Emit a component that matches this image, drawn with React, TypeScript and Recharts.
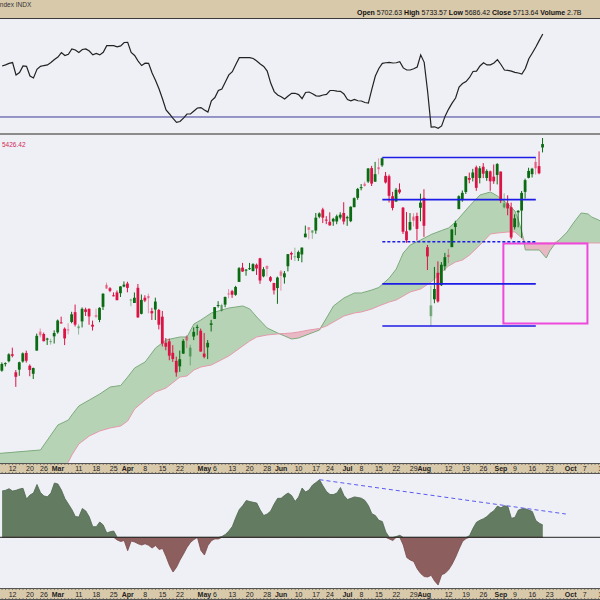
import { Area, Bar, ComposedChart, Line, ReferenceArea, ReferenceLine, XAxis, YAxis } from 'recharts'

// daily bars, index 0 = Feb 7 2024 ... index 155 = Sep 19 2024
const opens = [
  4973.05, 4995.16, 5004.17, 5026.83, 4967.94, 4976.44, 5003.14, 5031.13, 4989.32, 4963.03, 5038.83, 5100.92, 5093.0, 5074.6, 5067.2, 5085.36,
  5098.51, 5130.99, 5110.52, 5108.03, 5132.38, 5164.46, 5111.96, 5134.3, 5173.49, 5175.14, 5123.31, 5154.77, 5139.09, 5181.69, 5253.43, 5242.48, 5219.52, 5228.85, 5226.31, 5248.03,
  5257.97, 5204.29, 5194.37, 5244.05, 5158.95, 5211.37, 5217.03, 5167.88, 5172.95, 5171.51, 5149.67, 5064.59, 5068.97, 5031.52, 5005.44, 4987.33, 5028.85, 5084.86, 5019.88, 5084.65, 5114.13, 5103.78,
  5029.03, 5049.32, 5122.78, 5142.42, 5187.2, 5168.98, 5189.03, 5225.49, 5233.08, 5221.1, 5263.26, 5310.07, 5303.1, 5305.35, 5298.69, 5319.28, 5340.26, 5281.45, 5315.91, 5278.73, 5259.77, 5243.21,
  5297.15, 5278.24, 5314.48, 5357.8, 5343.81, 5341.22, 5353.0, 5409.13, 5441.93, 5424.08, 5431.11, 5476.15, 5499.99, 5466.77, 5459.58, 5460.73, 5460.71, 5473.59, 5488.48,
  5471.08, 5461.84, 5507.44, 5537.91, 5572.75, 5584.24, 5591.26, 5635.21, 5590.76, 5638.16, 5644.09, 5610.07, 5608.56, 5543.37, 5525.77, 5565.3, 5505.84, 5428.7, 5433.67, 5476.55, 5478.73, 5505.59,
  5537.84, 5376.63, 5151.14, 5206.42, 5293.13, 5252.57, 5314.39, 5351.88, 5376.98, 5442.68, 5501.13, 5530.5, 5557.23, 5602.88, 5603.09, 5637.77, 5602.89, 5639.66, 5602.89, 5624.51, 5607.3, 5612.74,
  5623.89, 5506.68, 5520.08, 5507.33, 5442.07, 5490.51, 5496.42, 5557.48, 5603.34, 5615.21, 5655.51, 5641.68, 5702.63,
]
const highs = [
  5000.33, 5000.4, 5030.06, 5048.39, 4975.29, 5002.52, 5032.72, 5038.7, 4993.71, 4983.21, 5094.39, 5111.06, 5097.66, 5080.69, 5077.37, 5104.99,
  5140.33, 5149.67, 5114.54, 5127.97, 5165.62, 5189.26, 5124.66, 5179.87, 5179.14, 5176.85, 5136.86, 5175.6, 5180.31, 5226.19, 5261.1, 5246.09, 5229.09, 5235.16, 5249.26, 5264.85,
  5263.95, 5208.34, 5228.75, 5256.59, 5222.18, 5219.57, 5224.81, 5178.43, 5211.78, 5175.03, 5168.43, 5079.84, 5077.96, 5056.66, 5019.02, 5038.84, 5076.12, 5089.48, 5057.75, 5114.62, 5123.49, 5110.83,
  5096.12, 5073.21, 5139.12, 5181.0, 5200.23, 5191.95, 5215.3, 5239.66, 5237.26, 5250.37, 5311.76, 5325.49, 5305.45, 5325.32, 5324.32, 5323.18, 5341.88, 5311.65, 5315.91, 5282.27, 5260.21, 5280.33,
  5302.11, 5298.8, 5354.16, 5362.35, 5375.08, 5365.79, 5375.95, 5447.25, 5441.93, 5432.39, 5488.5, 5490.38, 5505.53, 5478.31, 5490.66, 5472.88, 5483.14, 5490.81, 5523.64,
  5479.55, 5509.69, 5539.27, 5570.33, 5583.11, 5590.75, 5635.39, 5642.45, 5655.56, 5666.94, 5669.67, 5622.49, 5614.05, 5557.5, 5570.36, 5585.34, 5508.04, 5491.59, 5488.32, 5487.74, 5489.46, 5551.51,
  5566.16, 5383.89, 5250.89, 5312.34, 5330.64, 5328.03, 5358.19, 5371.2, 5436.5, 5463.22, 5546.23, 5561.98, 5608.3, 5620.51, 5632.68, 5643.22, 5641.82, 5651.62, 5631.18, 5627.03, 5646.95, 5651.37,
  5623.89, 5552.99, 5546.3, 5522.47, 5484.2, 5497.91, 5560.41, 5600.71, 5636.27, 5636.05, 5670.81, 5689.75, 5733.57,
]
const lows = [
  4969.8, 4987.09, 5000.34, 5016.83, 4920.31, 4956.45, 4999.44, 4999.52, 4955.02, 4946.0, 5038.83, 5081.46, 5068.91, 5057.29, 5058.35, 5061.89,
  5094.16, 5127.18, 5056.82, 5092.22, 5128.21, 5117.5, 5091.14, 5114.48, 5151.88, 5123.3, 5104.35, 5145.47, 5131.59, 5171.55, 5240.66, 5229.87, 5216.09, 5203.42, 5213.92, 5245.82,
  5229.2, 5184.05, 5194.37, 5146.06, 5157.21, 5197.35, 5160.78, 5138.7, 5138.77, 5107.94, 5052.47, 5039.83, 5007.25, 5001.89, 4953.56, 4969.4, 5027.96, 5047.02, 4990.58, 5073.14, 5088.65, 5035.31,
  5013.45, 5011.05, 5101.22, 5142.42, 5178.96, 5165.86, 5180.41, 5209.68, 5211.16, 5217.98, 5263.26, 5296.19, 5283.59, 5302.4, 5297.87, 5286.01, 5256.93, 5278.39, 5280.89, 5262.7, 5222.1, 5191.68,
  5234.32, 5257.63, 5297.64, 5335.36, 5331.33, 5331.52, 5327.25, 5409.13, 5402.51, 5403.75, 5420.4, 5471.32, 5455.56, 5452.03, 5447.59, 5446.56, 5451.87, 5467.54, 5451.12,
  5446.53, 5458.43, 5507.42, 5531.63, 5562.51, 5574.57, 5586.44, 5576.53, 5590.44, 5614.75, 5639.02, 5584.81, 5522.81, 5497.04, 5525.77, 5550.9, 5419.98, 5390.95, 5430.7, 5444.44, 5398.34, 5461.43,
  5410.42, 5302.03, 5119.26, 5193.56, 5195.54, 5249.89, 5300.51, 5324.37, 5376.98, 5415.85, 5501.13, 5525.17, 5550.74, 5585.5, 5591.57, 5560.95, 5585.16, 5602.34, 5593.48, 5560.95, 5583.71, 5581.79,
  5521.02, 5503.66, 5480.96, 5402.62, 5434.49, 5441.72, 5406.96, 5535.5, 5601.65, 5604.53, 5614.05, 5615.08, 5686.42,
]
const closes = [
  4995.06, 4997.91, 5026.61, 5021.84, 4953.17, 5000.62, 5029.73, 5005.57, 4975.51, 4981.8, 5087.03, 5088.8, 5069.53, 5078.18, 5069.76, 5096.27,
  5137.08, 5130.95, 5078.65, 5104.76, 5157.36, 5123.69, 5117.94, 5175.27, 5165.31, 5150.48, 5117.09, 5149.42, 5178.51, 5224.62, 5241.53, 5234.18, 5218.19, 5203.58, 5248.49, 5254.35,
  5243.77, 5205.81, 5211.49, 5147.21, 5204.34, 5202.39, 5209.91, 5160.64, 5199.06, 5123.41, 5061.82, 5051.41, 5022.21, 5011.12, 4967.23, 5010.6, 5070.55, 5071.63, 5048.42, 5099.96, 5116.17, 5035.69,
  5018.39, 5064.2, 5127.79, 5180.74, 5187.7, 5187.67, 5214.08, 5222.68, 5221.42, 5246.68, 5308.15, 5297.1, 5303.27, 5308.13, 5321.41, 5307.01, 5267.84, 5304.72, 5306.04, 5266.95, 5235.48, 5277.51,
  5283.4, 5291.34, 5354.03, 5352.96, 5346.99, 5360.79, 5375.32, 5421.03, 5433.74, 5431.6, 5473.23, 5487.03, 5473.17, 5464.62, 5447.87, 5469.3, 5477.9, 5482.87, 5460.48,
  5475.09, 5509.01, 5537.02, 5567.19, 5572.85, 5576.98, 5633.91, 5584.54, 5615.35, 5631.22, 5667.2, 5588.27, 5544.59, 5505.0, 5564.41, 5555.74, 5427.13, 5399.22, 5459.1, 5463.54, 5436.44, 5522.3,
  5446.68, 5346.56, 5186.33, 5240.03, 5199.5, 5319.31, 5344.16, 5344.39, 5434.43, 5455.21, 5543.22, 5554.25, 5608.25, 5597.12, 5620.85, 5570.64, 5634.61, 5616.84, 5625.8, 5592.18, 5591.96, 5648.4,
  5528.93, 5520.07, 5503.41, 5408.42, 5471.05, 5495.52, 5554.13, 5595.76, 5626.02, 5633.09, 5634.58, 5618.26, 5713.64,
]
const prevClose0 = 4954.23

// upper indicator panel, one value per bar
const rsi = [
  53.9, 54.4, 55.1, 55.5, 49.7, 50.8, 53.9, 53.7, 49.2, 48.3, 52.3, 53.7, 54.1, 54.4, 55.5, 56.9, 58.1, 60.2, 58.8, 59.4,
  61.9, 61.4, 60.2, 61.6, 61.9, 60.9, 59.1, 59.8, 59.1, 60.3, 63.4, 63.4, 63.4, 62.9, 63.3, 64.9, 65.0, 60.2, 58.8, 56.2,
  54.1, 55.2, 55.1, 50.6, 47.1, 43.1, 38.4, 33.3, 31.4, 29.3, 27.5, 27.9, 29.5, 31.4, 31.4, 32.8, 34.2, 34.4, 33.3, 32.3,
  37.6, 39.1, 42.4, 43.1, 46.4, 49.7, 51.2, 54.6, 57.8, 57.8, 57.8, 57.8, 57.4, 56.2, 54.8, 53.7, 51.5, 45.9, 41.9, 40.3,
  39.5, 38.4, 39.8, 41.1, 41.1, 40.5, 38.6, 41.5, 41.7, 40.9, 39.9, 39.8, 40.3, 40.6, 42.4, 42.4, 42.1, 42.0, 40.8, 38.2,
  37.6, 38.2, 37.6, 37.5, 36.8, 36.5, 43.1, 49.2, 52.7, 55.1, 55.4, 55.6, 55.3, 55.4, 55.9, 53.0, 52.0, 52.0, 52.6, 53.4,
  59.1, 55.6, 41.7, 25.3, 25.4, 24.7, 25.8, 30.4, 33.7, 36.5, 38.9, 44.0, 45.7, 46.6, 48.5, 51.3, 51.5, 53.9, 55.4, 54.4,
  54.4, 55.3, 56.9, 54.6, 52.0, 51.8, 51.5, 50.9, 50.6, 50.1, 52.7, 57.3, 60.0, 62.8, 65.9, 68.9,
]

// lower oscillator panel, one value per bar
const macd = [
  46.3, 47.0, 48.6, 46.3, 47.0, 48.3, 49.0, 38.3, 42.3, 44.3, 52.8, 44.8, 41.3, 40.6, 44.3, 54.3, 53.3, 47.3, 38.8, 33.3,
  27.8, 20.8, 20.3, 28.8, 26.3, 20.3, 10.6, 10.6, 15.3, 12.3, 4.3, 5.6, 6.3, -2.7, -4.2, -3.2, -13.4, -3.7, -4.7, -6.5,
  -7.7, -6.5, -8.0, -10.7, -8.2, -12.2, -11.2, -19.2, -28.2, -34.7, -30.0, -22.7, -16.7, -10.2, -5.2, -2.2, -0.2, -13.2, -17.7, -8.3,
  -3.4, -1.6, -1.7, 0.8, 2.8, 6.3, 10.8, 19.8, 27.8, 31.8, 36.8, 35.8, 35.0, 34.3, 27.3, 21.8, 23.3, 26.3, 33.3, 39.0,
  39.0, 42.0, 44.3, 41.8, 35.8, 40.3, 49.3, 45.3, 47.3, 52.3, 54.8, 57.6, 51.3, 45.8, 42.8, 42.8, 44.3, 49.8, 41.8, 37.8,
  39.0, 40.4, 39.8, 39.1, 36.9, 31.8, 23.6, 21.8, 17.0, 15.8, 5.3, -1.7, -3.2, 0.8, 2.0, -7.7, -20.2, -22.7, -24.2, -31.5,
  -36.2, -39.2, -39.7, -38.0, -43.7, -47.7, -37.5, -36.0, -32.5, -27.0, -20.0, -11.7, -4.2, -1.2, 1.6, 9.0, 15.1, 17.1, 18.6, 20.8,
  24.2, 26.6, 31.2, 29.5, 31.6, 30.8, 19.0, 19.9, 27.2, 28.5, 28.6, 27.2, 25.8, 16.8, 14.1, 12.3,
]

// ichimoku cloud edges, sampled at bar indexes (runs past the last bar)
const cloudIdx = [
  -1, 11, 13, 16, 19, 20, 22, 25, 28, 31, 34, 36, 38, 41, 44, 47, 51, 53, 55, 57, 60, 65, 69, 71, 73, 76, 79, 81, 83, 85,
  88, 91, 93, 95, 98, 101, 103, 106, 108, 111, 113, 115, 117, 120, 123, 126, 128, 130, 132, 134, 137, 140, 142, 145, 147, 148, 149, 150, 152, 154,
  155, 156, 157, 158, 160, 162, 164, 166, 168, 169, 171, 172,
]
const spanA = [
  4702.6, 4714.0, 4746.7, 4795.7, 4812.0, 4828.4, 4857.8, 4877.4, 4897.0, 4919.9, 4924.8, 4952.5, 4982.0, 5001.6, 5047.3, 5073.5, 5083.3, 5083.3, 5125.8, 5138.8,
  5161.7, 5178.0, 5184.6, 5174.8, 5148.6, 5112.7, 5096.3, 5086.5, 5076.7, 5080.0, 5093.1, 5106.1, 5145.4, 5184.6, 5210.7, 5227.1, 5227.1, 5236.9, 5245.0, 5276.1,
  5305.5, 5357.8, 5383.9, 5400.3, 5418.2, 5431.3, 5439.5, 5459.1, 5485.2, 5511.4, 5547.3, 5557.1, 5544.1, 5517.9, 5495.0, 5465.6, 5426.4, 5367.6, 5367.6, 5367.6,
  5354.5, 5341.4, 5364.3, 5380.7, 5403.5, 5426.4, 5459.1, 5488.5, 5485.2, 5475.4, 5465.6, 5459.1,
]
const spanB = [
  4576.7, 4609.4, 4622.5, 4635.6, 4674.8, 4697.6, 4733.6, 4759.7, 4776.1, 4785.9, 4792.4, 4808.8, 4848.0, 4877.4, 4903.5, 4916.6, 4952.5, 4955.8, 4975.4, 4985.2,
  4991.8, 5021.2, 5053.9, 5070.2, 5083.3, 5089.8, 5093.1, 5094.7, 5096.3, 5099.6, 5106.1, 5111.0, 5119.2, 5132.3, 5151.9, 5161.7, 5165.0, 5174.8, 5184.6, 5197.7,
  5204.2, 5217.3, 5230.3, 5240.1, 5263.0, 5295.7, 5315.3, 5328.4, 5334.9, 5351.2, 5383.9, 5419.9, 5423.1, 5426.4, 5426.4, 5416.6, 5406.8, 5390.5, 5390.5, 5390.5,
  5390.5, 5390.5, 5390.5, 5390.5, 5390.5, 5390.5, 5390.5, 5390.5, 5390.5, 5390.5, 5390.5, 5390.5,
]

const tickIdx = [3, 8, 12, 16, 22, 27, 32, 36, 41, 46, 51, 58, 61, 66, 71, 76, 80, 85, 90, 94, 99, 103, 108, 113, 118, 121, 128, 133, 138, 143, 147, 152, 157, 163, 167, 172]
const tickLbl = ['12', '20', '26', 'Mar', '11', '18', '25', 'Apr', '8', '15', '22', 'May', '6', '13', '20', '28', 'Jun', '10', '17', '24', 'Jul', '8', '15', '22', '29', 'Aug', '12', '19', '26', 'Sep', '9', '16', '23', 'Oct', '7', '14']

// annotations
const fibLevels = [5669.67, 5532.07, 5394.46, 5256.86, 5119.26]
const fibDashed = [false, false, true, false, false]
const fibSpan = [109, 153]
const boxX = [143.7, 167.8]
const boxY = [5127.4, 5388.8]
const trendX = [91, 161.6]
const trendY = [57.6, 23.3]

const X_DOMAIN: [number, number] = [-0.6, 171.4]
const BG = '#eff0f5'
const TAN = '#d9c9ab'
const GREEN = '#0b6b12'
const RED = '#db1446'
const FONT = '"Liberation Sans", Arial, sans-serif'

const candles = closes.map((close, i) => ({
  i, open: opens[i], high: highs[i], low: lows[i], close, prev: i ? closes[i - 1] : prevClose0,
}))
const cloud = cloudIdx.map((i, k) => ({ i, a: spanA[k], b: spanB[k] }))
const rsiData = rsi.map((v, i) => ({ i, v }))
const macdData = macd.map((v, i) => ({ i, pos: Math.max(v, 0), neg: Math.min(v, 0) }))
const dayTicks = Array.from({ length: 173 }, (_, k) => k)

function Candle(props: any) {
  let { x, y, width, height } = props
  const { open, close, high, low, prev } = props.payload
  if (height < 0) { y += height; height = -height }
  const cx = x + width / 2
  const span = high - low || 1
  const yOf = (v: number) => y + ((high - v) / span) * height
  const up = close >= open
  const color = up ? GREEN : RED
  const solid = up ? close >= prev : close < prev
  const op = solid ? 1 : 0.42
  const top = yOf(Math.max(open, close))
  const bot = yOf(Math.min(open, close))
  return (
    <g>
      <line x1={cx} x2={cx} y1={y} y2={y + height} stroke={color} strokeOpacity={op} strokeWidth={1} />
      <rect x={cx - 1.4} y={top} width={2.8} height={Math.max(bot - top, 1)} fill={color} fillOpacity={op} />
    </g>
  )
}

function DateTick({ x, y, payload, h }: any) {
  const k = tickIdx.indexOf(payload.value)
  const lbl = k >= 0 ? tickLbl[k] : null
  const bold = lbl !== null && isNaN(Number(lbl))
  return (
    <g>
      <line x1={x} x2={x} y1={y} y2={y + 2} stroke="#555" strokeWidth={0.7} />
      <line x1={x} x2={x} y1={y + h - 2} y2={y + h} stroke="#555" strokeWidth={0.7} />
      {lbl && (
        <text x={x} y={y + h / 2 + 2.6} textAnchor="middle" fontSize={7} fontWeight={bold ? 700 : 400} fill="#222" fontFamily={FONT}>
          {lbl}
        </text>
      )}
    </g>
  )
}

const strip = (top: number, h: number) => (
  <div style={{ position: 'absolute', left: 0, top, width: 600, height: h, background: TAN, borderTop: '1px solid #555', borderBottom: '1px solid #555', boxSizing: 'border-box' }} />
)
const at = (top: number) => ({ position: 'absolute' as const, left: 0, top })

export default function App() {
  return (
    <div style={{ position: 'relative', width: 600, height: 600, overflow: 'hidden', background: BG, fontFamily: FONT }}>
      <style>{'body{margin:0}'}</style>
      <div style={{ position: 'absolute', left: 0, top: 0, width: 600, height: 18, background: TAN, borderBottom: '1px solid #3a3a3a' }}>
        <span style={{ position: 'absolute', left: -2, top: 1, fontSize: 6.5, color: '#333' }}>Index INDX</span>
        <span style={{ position: 'absolute', left: 357, top: 9, fontSize: 7, lineHeight: '8px', color: '#111', whiteSpace: 'nowrap' }}>
          <b>Open</b> 5702.63 <b>High</b> 5733.57 <b>Low</b> 5686.42 <b>Close</b> 5713.64 <b>Volume</b> 2.7B
        </span>
      </div>

      <div style={at(19)}>
        <ComposedChart width={600} height={114} data={rsiData} margin={{ top: 0, right: 0, left: 0, bottom: 0 }}>
          <XAxis type="number" dataKey="i" domain={X_DOMAIN} allowDataOverflow hide />
          <YAxis type="number" domain={[22.5, 75.9]} allowDataOverflow hide />
          <ReferenceLine y={30} stroke="#3c3c96" strokeWidth={1} />
          <Line type="linear" dataKey="v" stroke="#222" strokeWidth={1.2} dot={false} isAnimationActive={false} />
        </ComposedChart>
      </div>
      <div style={{ position: 'absolute', left: 0, top: 133, width: 600, height: 1.5, background: '#8c8c8c' }} />

      {strip(463, 11)}
      {strip(588, 12)}

      <div style={at(134)}>
        <ComposedChart width={600} height={329} data={cloud} margin={{ top: 0, right: 0, left: 0, bottom: 0 }}>
          <XAxis type="number" dataKey="i" domain={X_DOMAIN} allowDataOverflow hide />
          <YAxis type="number" domain={[4671.5, 5746.6]} allowDataOverflow hide />
          <Area type="linear" dataKey={(d: any) => [d.b, Math.max(d.a, d.b)]} fill="#b6d3b6" fillOpacity={1} stroke="none" isAnimationActive={false} />
          <Area type="linear" dataKey={(d: any) => [d.a, Math.max(d.a, d.b)]} fill="#e9b8c5" fillOpacity={1} stroke="none" isAnimationActive={false} />
          <Line type="linear" dataKey="a" stroke="#7dab7d" strokeWidth={1} dot={false} isAnimationActive={false} />
          <Line type="linear" dataKey="b" stroke="#e69aab" strokeWidth={1} dot={false} isAnimationActive={false} />
        </ComposedChart>
      </div>

      <div style={at(134)}>
        <ComposedChart width={600} height={340} data={candles} margin={{ top: 0, right: 0, left: 0, bottom: 0 }}>
          <XAxis
            type="number"
            dataKey="i"
            domain={X_DOMAIN}
            allowDataOverflow
            ticks={dayTicks}
            interval={0}
            height={11}
            tickSize={0}
            tickMargin={0}
            axisLine={false}
            tickLine={false}
            tick={(p: any) => <DateTick {...p} h={11} />}
          />
          <YAxis type="number" domain={[4671.5, 5746.6]} allowDataOverflow hide />
          <Bar dataKey={(d: any) => [d.low, d.high]} barSize={3} shape={<Candle />} isAnimationActive={false} />
          {fibLevels.map((lv, k) => (
            <ReferenceLine
              key={k}
              segment={[{ x: fibSpan[0], y: lv }, { x: fibSpan[1], y: lv }]}
              stroke="#1c1ce6"
              strokeWidth={1.6}
              strokeDasharray={fibDashed[k] ? '3 2' : undefined}
            />
          ))}
          <ReferenceArea x1={boxX[0]} x2={boxX[1]} y1={boxY[0]} y2={boxY[1]} fill="none" stroke="#ee48dc" strokeWidth={2} />
        </ComposedChart>
      </div>
      <span style={{ position: 'absolute', left: 2, top: 141, fontSize: 6.5, color: '#d0285a' }}>5426.42</span>

      <div style={at(473)}>
        <ComposedChart width={600} height={127} data={macdData} margin={{ top: 0, right: 0, left: 0, bottom: 0 }}>
          <XAxis
            type="number"
            dataKey="i"
            domain={X_DOMAIN}
            allowDataOverflow
            ticks={dayTicks}
            interval={0}
            height={12}
            tickSize={0}
            tickMargin={0}
            axisLine={false}
            tickLine={false}
            tick={(p: any) => <DateTick {...p} h={12} />}
          />
          <YAxis type="number" domain={[-50.7, 64.3]} allowDataOverflow hide />
          <Area type="linear" dataKey="pos" baseValue={0} fill="#627b61" fillOpacity={1} stroke="#4e664e" strokeWidth={0.8} isAnimationActive={false} />
          <Area type="linear" dataKey="neg" baseValue={0} fill="#8d5e5e" fillOpacity={1} stroke="#774a4a" strokeWidth={0.8} isAnimationActive={false} />
          <ReferenceLine y={0} stroke="#222" strokeWidth={1} />
          <ReferenceLine
            segment={[{ x: trendX[0], y: trendY[0] }, { x: trendX[1], y: trendY[1] }]}
            stroke="#5a5af0"
            strokeWidth={1}
            strokeDasharray="4 3"
          />
        </ComposedChart>
      </div>
    </div>
  )
}
